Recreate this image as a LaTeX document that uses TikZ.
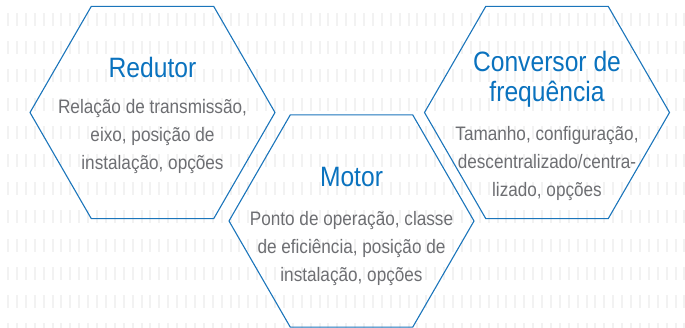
\documentclass[tikz,border=0pt]{standalone}
\usepackage{fontspec}
\setmainfont[FakeStretch=0.88]{Liberation Sans}
\usepackage{xcolor}
\definecolor{hexblue}{HTML}{1B75BB}
\definecolor{titleblue}{HTML}{0A72BE}
\definecolor{bodygrey}{HTML}{6D6E72}
\definecolor{stripe}{HTML}{F2F2F2}
\usetikzlibrary{shapes.geometric}
\usetikzlibrary{positioning}
\usetikzlibrary{calc}

\begin{document}
\begin{tikzpicture}[x=1pt, y=-1pt,
    hexagon/.style={draw=hexblue, line width=1.1pt, regular polygon, regular polygon sides=6, minimum size=245pt, inner sep=0pt},
    heading/.style={text=titleblue, font=\fontsize{28}{30}\selectfont, align=center, anchor=base, inner sep=0pt},
    details/.style={text=bodygrey, font=\fontsize{19.5}{28}\selectfont, align=center, anchor=base, inner sep=0pt}]
\useasboundingbox (0,0) rectangle (685,327);

\foreach \row in {0,...,11}
    \draw[stripe, line width=13pt, dash pattern=on 2pt off 6.9pt] (7,19.5+\row*28.2) -- (685,19.5+\row*28.2);

\coordinate (1) at (152.5,112.5);
\coordinate (2) at (351.5,221);
\coordinate (3) at (547,112.5);

\node(hexRedutor)[hexagon] at (1) {};
\node(hexMotor)[hexagon] at (2) {};
\node(hexConversor)[hexagon] at (3) {};

\node(redutor)[heading] at (152.5,77.3) {Redutor};
\node(redutorText)[details] at (152.5,169.3) {Relação de transmissão,\\eixo, posição de\\instalação, opções};

\node(motor)[heading] at (351.5,186.7) {Motor};
\node(motorText)[details] at (351.5,281) {Ponto de operação, classe\\de eficiência, posição de\\instalação, opções};

\node(conversor)[heading] at (547,101.7) {Conversor de\\frequência};
\node(conversorText)[details] at (547,196.7) {Tamanho, configuração,\\descentralizado/centra-\\lizado, opções};
\end{tikzpicture}
\end{document}
